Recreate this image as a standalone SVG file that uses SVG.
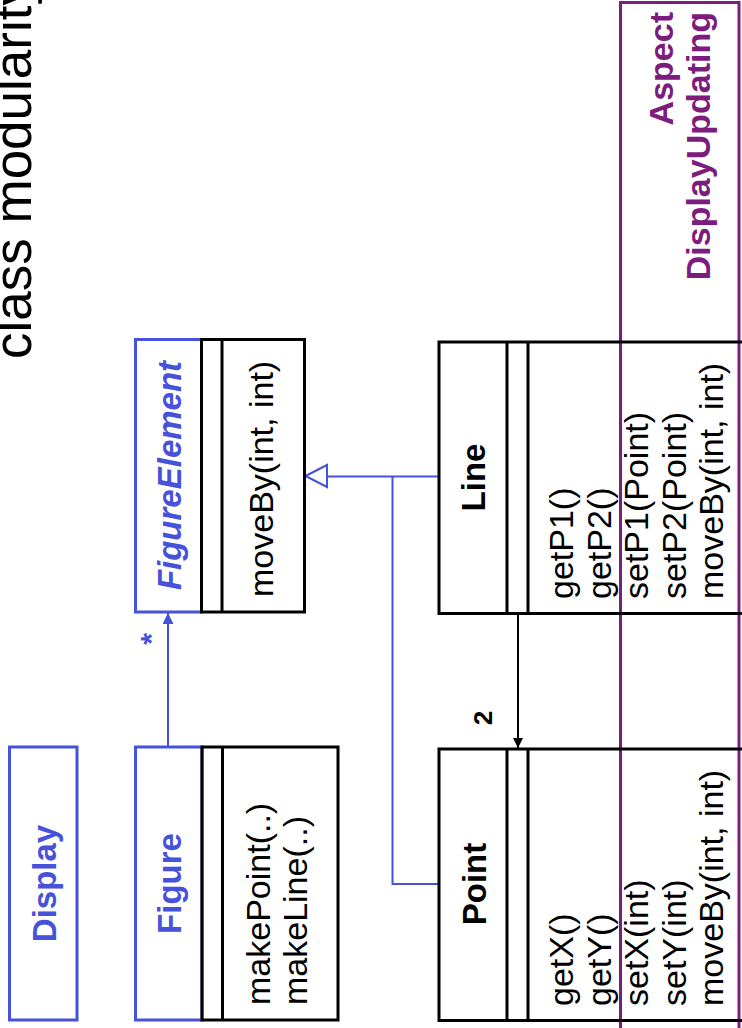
<svg xmlns="http://www.w3.org/2000/svg" width="742" height="1028" viewBox="0 0 742 1028">
  <style>
    .bg { fill: #ffffff; }
    .blue-box { fill: #ffffff; stroke: #4652DA; stroke-width: 3; }
    .black-box { fill: none; stroke: #000000; stroke-width: 3; }
    .aspect-box { fill: none; stroke: #7C1D7E; stroke-width: 3; }
    .name-blue { font-family: "Liberation Sans", Arial, sans-serif; font-size: 33px; font-weight: bold; fill: #4652DA; text-anchor: middle; }
    .name-black { font-family: "Liberation Sans", Arial, sans-serif; font-size: 33px; font-weight: bold; fill: #000000; text-anchor: middle; }
    .method { font-family: "Liberation Sans", Arial, sans-serif; font-size: 34px; fill: #000000; }
    .aspect-text { font-family: "Liberation Sans", Arial, sans-serif; font-size: 34px; font-weight: bold; fill: #7C1D7E; text-anchor: end; }
    .title { font-family: "Liberation Sans", Arial, sans-serif; font-size: 53px; fill: #000000; }
    .mult-blue { font-family: "Liberation Sans", Arial, sans-serif; font-size: 30px; font-weight: bold; fill: #4652DA; text-anchor: middle; }
    .mult-black { font-family: "Liberation Sans", Arial, sans-serif; font-size: 26px; font-weight: bold; fill: #000000; text-anchor: middle; }
    .conn-blue { fill: none; stroke: #4652DA; stroke-width: 2; }
    .conn-black { fill: none; stroke: #000000; stroke-width: 2; }
  </style>
  <defs>
    <marker id="arrow-blue" viewBox="0 0 10 10" refX="10" refY="5" markerWidth="11" markerHeight="11" markerUnits="userSpaceOnUse" orient="auto">
      <path d="M0,0 L10,5 L0,10 Z" fill="#4652DA"/>
    </marker>
    <marker id="arrow-black" viewBox="0 0 10 10" refX="10" refY="5" markerWidth="10" markerHeight="10" markerUnits="userSpaceOnUse" orient="auto">
      <path d="M0,0 L10,5 L0,10 Z" fill="#000000"/>
    </marker>
  </defs>

  <rect class="bg" x="0" y="0" width="742" height="1028"/>

  <!-- title, rotated -->
  <text class="title" transform="translate(31,359) rotate(-90)">class modularity</text>

  <!-- aspect region -->
  <g id="aspect-displayupdating">
    <rect class="aspect-box" x="620.5" y="2.5" width="118.5" height="1040"/>
    <text class="aspect-text" transform="translate(673,12) rotate(-90)">Aspect</text>
    <text class="aspect-text" transform="translate(710,12) rotate(-90)">DisplayUpdating</text>
  </g>

  <!-- connectors -->
  <g id="connectors">
    <!-- Figure to FigureElement, many -->
    <line class="conn-blue" x1="168" y1="747" x2="168" y2="613" marker-end="url(#arrow-blue)"/>
    <text class="mult-blue" transform="translate(161,639) rotate(-90)">*</text>
    <!-- generalization: Line and Point to FigureElement -->
    <path class="conn-blue" d="M439,476.5 L327,476.5"/>
    <path class="conn-blue" d="M439,884 L392.5,884 L392.5,476.5"/>
    <path d="M305.5,476 L327,465 L327,487 Z" fill="#ffffff" stroke="#4652DA" stroke-width="2"/>
    <!-- Line to Point, two endpoints -->
    <line class="conn-black" x1="518" y1="613" x2="518" y2="748" marker-end="url(#arrow-black)"/>
    <text class="mult-black" transform="translate(492,718) rotate(-90)">2</text>
  </g>

  <!-- Display -->
  <g id="display">
    <rect class="blue-box" x="9.5" y="747" width="67.5" height="273"/>
    <text class="name-blue" transform="translate(55.5,883.5) rotate(-90)">Display</text>
  </g>

  <!-- Figure -->
  <g id="figure">
    <rect class="blue-box" x="135.5" y="747" width="66.5" height="273"/>
    <rect class="black-box" x="202" y="747" width="136" height="273"/>
    <line class="black-box" x1="222.5" y1="747" x2="222.5" y2="1020"/>
    <text class="name-blue" transform="translate(180.5,883.5) rotate(-90)">Figure</text>
    <text class="method" transform="translate(270,1005) rotate(-90)">makePoint(..)</text>
    <text class="method" transform="translate(307,1005) rotate(-90)">makeLine(..)</text>
  </g>

  <!-- FigureElement -->
  <g id="figure-element">
    <rect class="blue-box" x="135.5" y="339.5" width="66" height="272.5"/>
    <rect class="black-box" x="201.5" y="339.5" width="103" height="272.5"/>
    <line class="black-box" x1="222" y1="339.5" x2="222" y2="612"/>
    <text class="name-blue" font-style="italic" transform="translate(180.5,475.5) rotate(-90)">FigureElement</text>
    <text class="method" transform="translate(273,597) rotate(-90)">moveBy(int, int)</text>
  </g>

  <!-- Line -->
  <g id="line">
    <rect class="black-box" x="439" y="342" width="330" height="271.5"/>
    <line class="black-box" x1="507" y1="342" x2="507" y2="613.5"/>
    <line class="black-box" x1="528" y1="342" x2="528" y2="613.5"/>
    <text class="name-black" transform="translate(485,477.5) rotate(-90)">Line</text>
    <text class="method" transform="translate(573,599) rotate(-90)">getP1()</text>
    <text class="method" transform="translate(610.5,599) rotate(-90)">getP2()</text>
    <text class="method" transform="translate(648,599) rotate(-90)">setP1(Point)</text>
    <text class="method" transform="translate(685.5,599) rotate(-90)">setP2(Point)</text>
    <text class="method" transform="translate(723,599) rotate(-90)">moveBy(int, int)</text>
  </g>

  <!-- Point -->
  <g id="point">
    <rect class="black-box" x="439" y="749" width="330" height="271.5"/>
    <line class="black-box" x1="507" y1="749" x2="507" y2="1020.5"/>
    <line class="black-box" x1="528" y1="749" x2="528" y2="1020.5"/>
    <text class="name-black" transform="translate(486,884) rotate(-90)">Point</text>
    <text class="method" transform="translate(573,1006) rotate(-90)">getX()</text>
    <text class="method" transform="translate(610.5,1006) rotate(-90)">getY()</text>
    <text class="method" transform="translate(648,1006) rotate(-90)">setX(int)</text>
    <text class="method" transform="translate(685.5,1006) rotate(-90)">setY(int)</text>
    <text class="method" transform="translate(723,1006) rotate(-90)">moveBy(int, int)</text>
  </g>
</svg>
